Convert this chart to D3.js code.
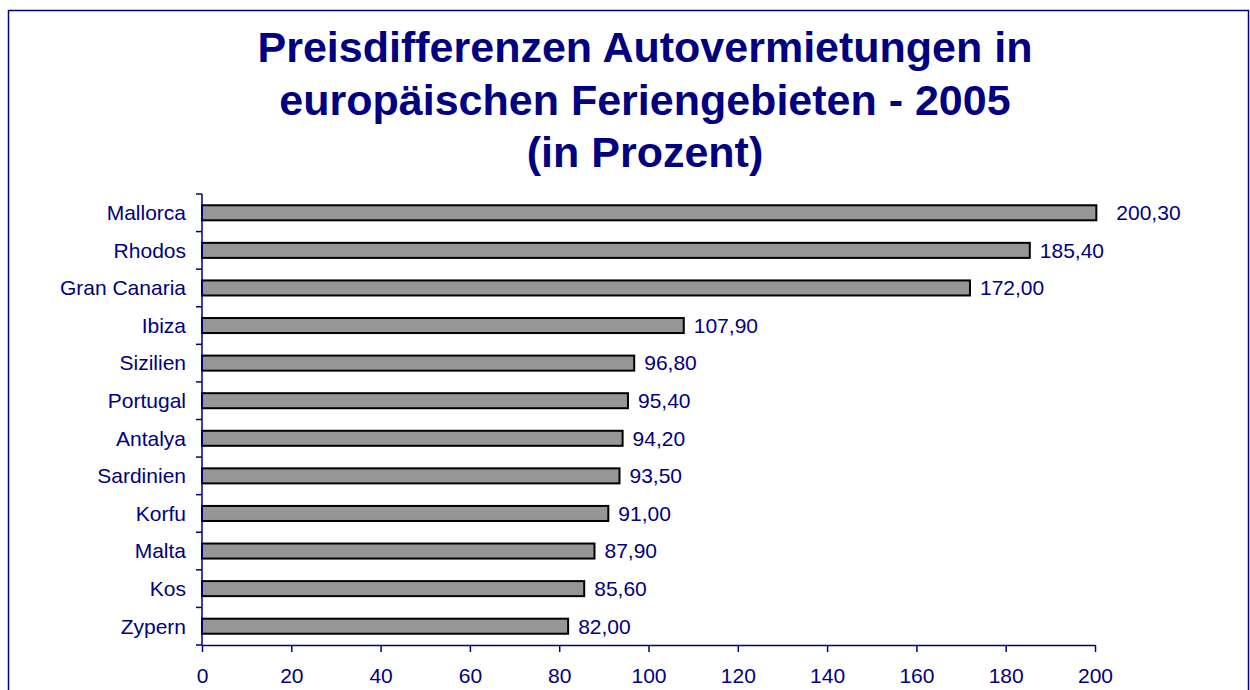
<!DOCTYPE html>
<html>
<head>
<meta charset="utf-8">
<script src="https://cdn.jsdelivr.net/npm/d3@7"></script>
<style>
body { margin: 0; background: #fff; }
</style>
</head>
<body>
<script>
var categories = ["Mallorca", "Rhodos", "Gran Canaria", "Ibiza", "Sizilien", "Portugal",
                  "Antalya", "Sardinien", "Korfu", "Malta", "Kos", "Zypern"];
var values = [200.3, 185.4, 172.0, 107.9, 96.8, 95.4, 94.2, 93.5, 91.0, 87.9, 85.6, 82.0];
var xTicks = [0, 20, 40, 60, 80, 100, 120, 140, 160, 180, 200];
var titleLines = ["Preisdifferenzen Autovermietungen in",
                  "europäischen Feriengebieten - 2005",
                  "(in Prozent)"];

var width = 1250;
var height = 690;
var navy = "#000080";
var font = "Arial, 'Liberation Sans', sans-serif";

var svg = d3.select("body")
            .append("svg")
            .attr("width", width)
            .attr("height", height)
            .style("font-family", font);

// outer frame
svg.append("rect")
   .attr("x", 8.5)
   .attr("y", 10.5)
   .attr("width", 1240)
   .attr("height", 700)
   .attr("fill", "none")
   .attr("stroke", navy)
   .attr("stroke-width", 1.5);

// title
svg.append("g")
   .selectAll("text")
   .data(titleLines)
   .join("text")
   .attr("x", 645)
   .attr("y", function(d, i) { return 62 + i * 52.5; })
   .attr("text-anchor", "middle")
   .attr("fill", navy)
   .attr("font-weight", "bold")
   .attr("font-size", "43px")
   .text(function(d) { return d; });

var x = d3.scaleLinear()
          .domain([0, 200])
          .range([202, 1095]);

var y = d3.scaleBand()
          .domain(categories)
          .range([194, 645])
          .paddingInner(0.6)
          .paddingOuter(0.3);

// bars
svg.append("g")
   .selectAll("rect")
   .data(values)
   .join("rect")
   .attr("x", x(0))
   .attr("y", function(d, i) { return y(categories[i]); })
   .attr("width", function(d) { return x(d) - x(0); })
   .attr("height", y.bandwidth())
   .attr("fill", "#969696")
   .attr("stroke", "#000")
   .attr("stroke-width", 2);

// value labels
svg.append("g")
   .selectAll("text")
   .data(values)
   .join("text")
   .attr("x", function(d, i) { return x(d) + (i === 0 ? 20 : 10); })
   .attr("y", function(d, i) { return y(categories[i]) + y.bandwidth() / 2; })
   .attr("dy", "0.35em")
   .attr("fill", navy)
   .attr("font-size", "21px")
   .text(function(d) { return d.toFixed(2).replace(".", ","); });

// y axis: line + ticks between categories
var yAxis = svg.append("g");
yAxis.append("line")
     .attr("x1", x(0)).attr("x2", x(0))
     .attr("y1", 194).attr("y2", 645)
     .attr("stroke", navy)
     .attr("stroke-width", 1.5);
yAxis.selectAll("line.tick")
     .data(d3.range(categories.length + 1))
     .join("line")
     .attr("class", "tick")
     .attr("x1", x(0) - 6).attr("x2", x(0))
     .attr("y1", function(i) { return 194 + i * y.step(); })
     .attr("y2", function(i) { return 194 + i * y.step(); })
     .attr("stroke", navy)
     .attr("stroke-width", 1.5);
yAxis.selectAll("text")
     .data(categories)
     .join("text")
     .attr("x", 186)
     .attr("y", function(d) { return y(d) + y.bandwidth() / 2; })
     .attr("dy", "0.35em")
     .attr("text-anchor", "end")
     .attr("fill", navy)
     .attr("font-size", "21px")
     .text(function(d) { return d; });

// x axis
var xAxis = svg.append("g")
               .attr("transform", "translate(0,645)")
               .call(d3.axisBottom(x).tickValues(xTicks).tickSize(7).tickPadding(16).tickSizeOuter(0));
xAxis.select(".domain").attr("stroke", navy).attr("stroke-width", 1.5);
xAxis.selectAll(".tick line").attr("stroke", navy).attr("stroke-width", 1.5);
xAxis.selectAll(".tick text")
     .attr("fill", navy)
     .attr("font-size", "21px")
     .attr("font-family", font);
</script>
</body>
</html>
